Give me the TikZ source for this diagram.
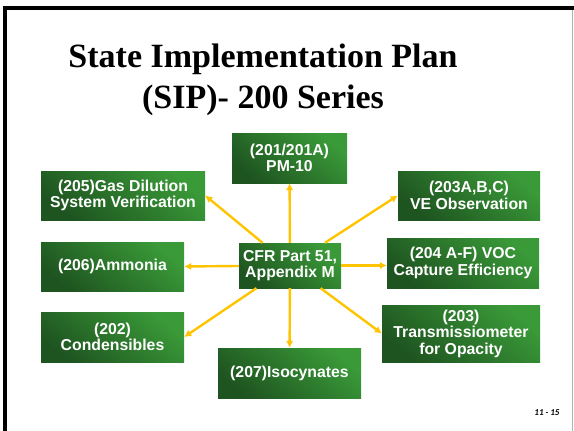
\documentclass[tikz,border=0pt]{standalone}
\usepackage{fontspec}
\setmainfont{Liberation Serif}
\setsansfont{Liberation Sans}
\newfontfamily\pagefont{Carlito}
\usetikzlibrary{arrows.meta}

\definecolor{boxlight}{RGB}{58,154,56}
\definecolor{boxdark}{RGB}{30,84,32}
\definecolor{spoke}{RGB}{255,196,0}

\begin{document}
\begin{tikzpicture}[
    x=1pt, y=-1pt,
    box/.style={
        top color=boxlight,
        bottom color=boxdark,
        shading angle=-40,
        text=white,
        align=center,
        inner sep=0pt,
        font=\sffamily\bfseries\fontsize{15.8}{16.5}\selectfont
    },
    spokearrow/.style={-{Latex[length=7pt,width=7.5pt]}, line width=2.4pt, draw=spoke}
]
\useasboundingbox (0,0) rectangle (574,431);

% slide frame
\draw[line width=4pt] (5,431) -- (5,8) -- (574,8);
\draw[gray!60, line width=1pt] (572.5,10) -- (572.5,431);

% title
\node[font=\bfseries\fontsize{34}{41}\selectfont, align=center, anchor=north, inner sep=0pt] (title) at (263,44)
    {State Implementation Plan\\(SIP)- 200 Series};

% boxes
\node[box, minimum width=102pt, minimum height=45pt] (cfr) at (290,265.5) {CFR Part 51,\\Appendix M};
\node[box, minimum width=115pt, minimum height=50pt] (pm) at (289.5,158) {(201/201A)\\PM-10};
\node[box, minimum width=164pt, minimum height=49pt] (gas) at (123,195.5) {(205)Gas Dilution\\System Verification};
\node[box, minimum width=143pt, minimum height=49pt] (ammonia) at (112.5,266.5) {(206)Ammonia};
\node[box, minimum width=143pt, minimum height=50pt] (cond) at (112.5,337) {(202)\\Condensibles};
\node[box, minimum width=143pt, minimum height=50pt] (iso) at (289.5,373) {(207)Isocynates};
\node[box, minimum width=142pt, minimum height=49pt] (ve) at (469,195.5) {(203A,B,C)\\VE Observation};
\node[box, minimum width=152pt, minimum height=50pt] (voc) at (463,263) {(204 A-F) VOC\\Capture Efficiency};
\node[box, minimum width=158pt, minimum height=57pt] (trans) at (461,333.5) {(203)\\Transmissiometer\\for Opacity};

% spokes
\draw[spokearrow] (cfr) -- (pm);
\draw[spokearrow] (cfr) -- (iso);
\draw[spokearrow] (cfr) -- (ammonia.east);
\draw[spokearrow] (cfr) -- (voc.west |- cfr);
\draw[spokearrow] (cfr) -- (gas.east);
\draw[spokearrow] (cfr) -- (cond.east);
\draw[spokearrow] (cfr) -- (ve.west);
\draw[spokearrow] (cfr) -- (trans.west);

% page number
\node[font=\pagefont\bfseries\itshape\fontsize{9}{10}\selectfont, inner sep=0pt] (pagenum) at (547,413) {11 - 15};

\end{tikzpicture}
\end{document}
